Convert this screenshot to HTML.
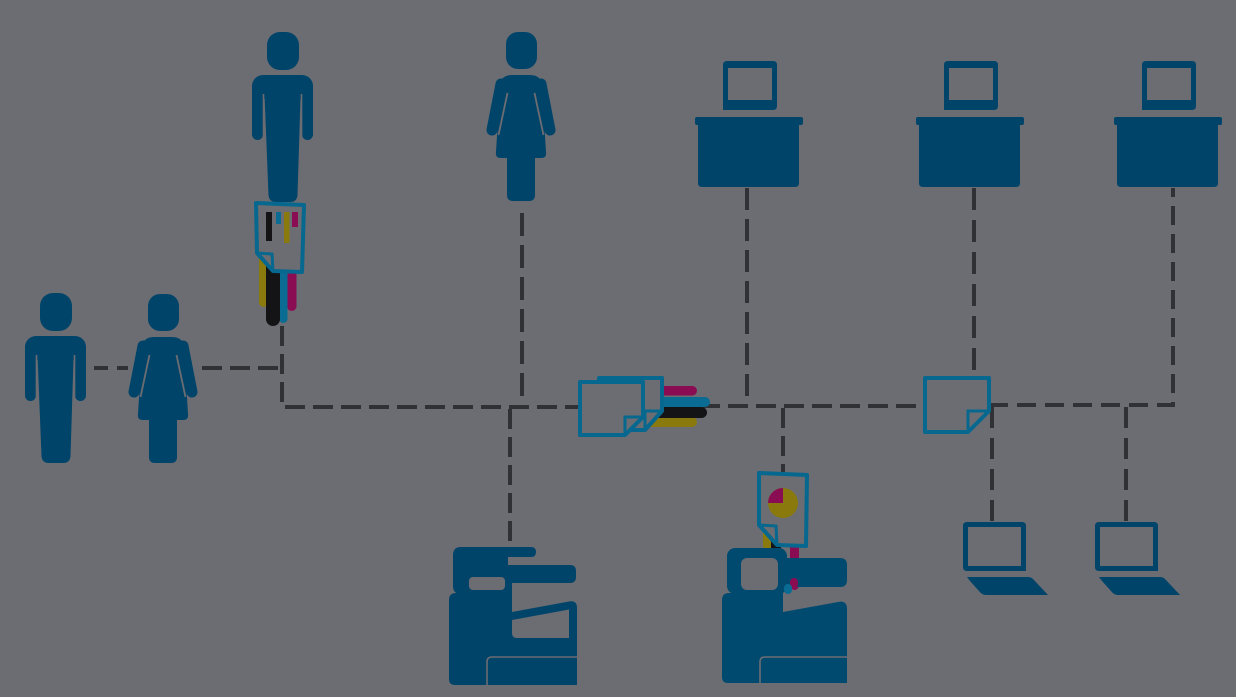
<!DOCTYPE html>
<html>
<head>
<meta charset="utf-8">
<style>
html,body{margin:0;padding:0;background:#6b6d72;}
svg{display:block;}
</style>
</head>
<body>
<svg width="1236" height="697" viewBox="0 0 1236 697" xmlns="http://www.w3.org/2000/svg">
<rect width="1236" height="697" fill="#6b6d72"/>
<defs>
 <g id="man">
  <rect x="15" y="0" width="32" height="38" rx="13"/>
  <rect x="0" y="43" width="61" height="24" rx="11"/>
  <rect x="0" y="50" width="11" height="58" rx="5.5"/>
  <rect x="50" y="50" width="11" height="58" rx="5.5"/>
  <path d="M12,50 L49,50 L45.5,163 Q45,170 38,170 L24,170 Q17,170 16.5,163 Z"/>
  <path d="M11.5,62 V110 M49.5,62 V110" stroke="#6b6d72" stroke-width="1.6" fill="none"/>
 </g>
 <g id="woman">
  <rect x="19" y="0" width="31" height="37" rx="12"/>
  <path d="M13,55 Q13,43 25,43 L43,43 Q55,43 55,55 L59,120 Q60,126 54,126 L14,126 Q8,126 9,120 Z"/>
  <path d="M14,52 L5,98 M54,52 L63,98" stroke="#00446a" stroke-width="11" stroke-linecap="round" fill="none"/>
  <path d="M20.5,61 L11.5,103 M47.5,61 L56.5,103" stroke="#6b6d72" stroke-width="1.8" fill="none"/>
  <path d="M20,120 H48 V163 Q48,169 42,169 H26 Q20,169 20,163 Z"/>
 </g>
 <g id="desk">
  <path fill-rule="evenodd" d="M727,61 H773 Q777,61 777,65 V106 Q777,110 773,110 H723 V65 Q723,61 727,61 Z M728,68 V100 H772 V68 Z"/>
  <rect x="695" y="117" width="108" height="8" rx="2"/>
  <path d="M698,124 H799 V183 Q799,187 795,187 H702 Q698,187 698,183 Z"/>
 </g>
 <g id="laptop">
  <path fill-rule="evenodd" d="M967,522 H1022 Q1026,522 1026,526 V571 H967 Q963,571 963,567 V526 Q963,522 967,522 Z M968,527 V566 H1021 V527 Z"/>
  <path d="M967,577 H1028 Q1031,577 1033,579 L1048,595 H986 Q982,595 979,591 L970,581 Q967,577 967,577 Z"/>
 </g>
</defs>

<!-- dashed connectors -->
<g stroke="#2f3135" stroke-width="4" fill="none" stroke-dasharray="20 8">
 <path d="M94,368 H108 M117,368 H128" stroke-dasharray="none"/>
 <path d="M202,368 H282"/>
 <path d="M282,326 V407 H600"/>
 <path d="M522,213 V396" stroke-dasharray="23 9"/>
 <path d="M510,409 V546"/>
 <path d="M700,406 H926"/>
 <path d="M747,188 V400" stroke-dasharray="22 9"/>
 <path d="M783,408 V474"/>
 <path d="M974,188 V380" stroke-dasharray="22 10"/>
 <path d="M989,405 H1173 V188" stroke-dasharray="19 9"/>
 <path d="M992,407 V522" stroke-dasharray="21 10"/>
 <path d="M1126,407 V522" stroke-dasharray="21 10"/>
</g>

<!-- people -->
<g fill="#00446a">
 <use href="#man" transform="translate(252,32)"/>
 <use href="#woman" transform="translate(487,32)"/>
 <use href="#man" transform="translate(25,293)"/>
 <use href="#woman" transform="translate(129,294)"/>
</g>

<!-- desks -->
<g fill="#00446a">
 <use href="#desk"/>
 <use href="#desk" transform="translate(221,0)"/>
 <use href="#desk" transform="translate(419,0)"/>
</g>

<!-- laptops -->
<g fill="#00446a">
 <use href="#laptop"/>
 <use href="#laptop" transform="translate(132,0)"/>
</g>

<!-- man document with color trails -->
<rect x="287" y="245" width="9.5" height="66" rx="4.75" fill="#8a0d54"/>
<rect x="279" y="245" width="8.5" height="78" rx="4.25" fill="#0a6b93"/>
<rect x="259" y="240" width="9" height="67" rx="4.5" fill="#8a7a0e"/>
<rect x="266" y="245" width="14" height="81" rx="7" fill="#141416"/>
<path d="M256,203 L304,205 L302,272 L273,271 L257,253 Z" fill="#6b6d72" stroke="#06678f" stroke-width="4" stroke-linejoin="round"/>
<path d="M257,253 L272,254 L273,271" fill="none" stroke="#06678f" stroke-width="3"/>
<rect x="266" y="212" width="6" height="29" fill="#141416"/>
<rect x="276" y="212" width="5" height="12" fill="#0a6b93"/>
<rect x="284" y="212" width="5.5" height="31" fill="#8a7a0e"/>
<rect x="292" y="212" width="6" height="15" fill="#8a0d54"/>

<!-- center document cluster -->
<rect x="645" y="417" width="52" height="10" rx="5" fill="#8a7a0e"/>
<rect x="650" y="407" width="57" height="11" rx="5.5" fill="#141416"/>
<rect x="650" y="397" width="60" height="10" rx="5" fill="#0a6b93"/>
<rect x="650" y="386" width="47" height="9.5" rx="4.75" fill="#8a0d54"/>
<path d="M599,378 H662 V411 L645,430 H599 Z" fill="#6b6d72" stroke="#06678f" stroke-width="4" stroke-linejoin="round"/>
<path d="M645,430 V411 H662" fill="none" stroke="#06678f" stroke-width="3"/>
<path d="M580,382 H643 V417 L625,435 H580 Z" fill="#6b6d72" stroke="#06678f" stroke-width="4" stroke-linejoin="round"/>
<path d="M625,435 V417 H643" fill="none" stroke="#06678f" stroke-width="3"/>

<!-- right document -->
<path d="M925,378 H989 V411 L968,432 H925 Z" fill="#6b6d72" stroke="#06678f" stroke-width="4" stroke-linejoin="round"/>
<path d="M968,432 V411 H989" fill="none" stroke="#06678f" stroke-width="3"/>

<!-- printer 1 -->
<g fill="#00446a">
 <path d="M461,547 H531 Q536,547 536,552 Q536,557 531,557 H508 V586 Q508,594 500,594 H461 Q453,594 453,586 V555 Q453,547 461,547 Z"/>
 <rect x="504" y="578" width="8" height="17"/>
 <path d="M508,565 H570 Q576,565 576,571 V577 Q576,583 570,583 H508 Z"/>
 <path d="M449,600 Q449,593 456,593 H512 V612 L569,601.5 Q577,600 577,608 V685 H455 Q449,685 449,679 Z"/>
</g>
<rect x="469" y="577" width="36" height="13" rx="4" fill="#6b6d72"/>
<path d="M512,620 L569,609.5 V638 H517 Q512,638 512,633 Z" fill="#6b6d72"/>
<path d="M487,685 V662 Q487,657 492,657 H577" fill="none" stroke="#6b6d72" stroke-width="1.6"/>

<!-- printer 2 with document -->
<rect x="763" y="528" width="9" height="22" rx="4.5" fill="#8a7a0e"/>
<rect x="771" y="535" width="10" height="14" fill="#141416"/>
<rect x="790" y="540" width="9" height="50" rx="4.5" fill="#8a0d54"/>
<g fill="#004a70">
 <rect x="727" y="548" width="60" height="46" rx="8"/>
 <path d="M777,558 H840 Q847,558 847,565 V580 Q847,587 840,587 H777 Z"/>
 <path d="M722,600 Q722,593 729,593 H783 V612 L838,602 Q847,600 847,609 V683 H728 Q722,683 722,677 Z"/>
</g>
<rect x="790" y="578" width="8" height="10" rx="4" fill="#8a0d54"/>
<rect x="784" y="584" width="8" height="10" rx="4" fill="#0a6b93"/>
<rect x="741" y="558" width="37" height="32" rx="6" fill="#6b6d72"/>
<path d="M760,683 V662 Q760,657 765,657 H847" fill="none" stroke="#6b6d72" stroke-width="1.6"/>
<path d="M759,473 L807,475 L806,546 L777,545 L759,525 Z" fill="#6b6d72" stroke="#06678f" stroke-width="4" stroke-linejoin="round"/>
<path d="M759,525 L776,526 L777,545" fill="none" stroke="#06678f" stroke-width="3"/>
<circle cx="783" cy="503" r="15" fill="#8a7a0e"/>
<path d="M783,503 L783,488 A15,15 0 0 0 768,503 Z" fill="#8a0d54"/>
</svg>
</body>
</html>
